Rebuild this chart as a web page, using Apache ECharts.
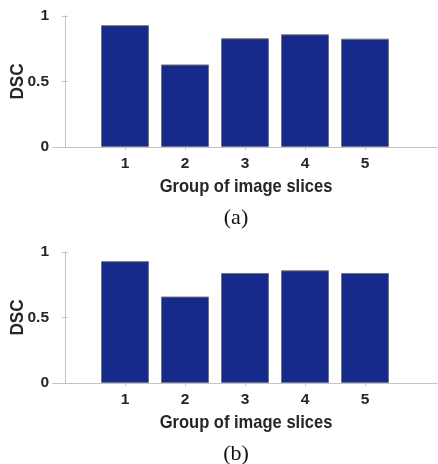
<!DOCTYPE html>
<html>
<head>
<meta charset="utf-8">
<script src="https://cdn.jsdelivr.net/npm/echarts@6/dist/echarts.min.js"></script>
<style>
  html, body { margin: 0; padding: 0; background: #fff; }
  #chart { width: 438px; height: 464px; }
</style>
</head>
<body>
<div id="chart"></div>
<script>
// 每组图像切片的 DSC
const groups = [1, 2, 3, 4, 5];
const dscA = [0.93, 0.63, 0.83, 0.86, 0.827];
const dscB = [0.93, 0.66, 0.84, 0.86, 0.84];
const yTicks = [0, 0.5, 1];
const xName = 'Group of image slices';
const yName = 'DSC';
const panelNames = ['(a)', '(b)'];

const gray = '#c3c3c3';
const txt = '#262626';
const font = '"Liberation Sans", Arial, sans-serif';
const serif = '"Liberation Serif", "Times New Roman", serif';

const grids = [
  { left: 53, right: 1, top: 16, height: 131, outerBoundsMode: 'none', containLabel: false },
  { left: 53, right: 1, top: 252, height: 131, outerBoundsMode: 'none', containLabel: false }
];

const xAxes = [];
const yAxes = [];
grids.forEach((g, i) => {
  // 底部 x 轴
  xAxes.push({
    gridIndex: i, type: 'value', min: -0.2, max: 6.2, position: 'bottom',
    axisLine: { lineStyle: { color: gray } },
    axisTick: { inside: true, length: 3, customValues: groups, lineStyle: { color: gray } },
    axisLabel: { customValues: groups, color: txt, fontFamily: font, fontWeight: 'bold', fontSize: 15.5, margin: 9 },
    splitLine: { show: false }
  });
  // 顶部边框
  xAxes.push({
    gridIndex: i, type: 'value', min: -0.2, max: 6.2, position: 'top',
    axisLine: { lineStyle: { color: gray } },
    axisTick: { inside: true, length: 3, customValues: groups, lineStyle: { color: gray } },
    axisLabel: { show: false },
    splitLine: { show: false }
  });
  yAxes.push({
    gridIndex: i, type: 'value', min: 0, max: 1, interval: 0.5, position: 'left',
    axisLine: { show: true, lineStyle: { color: gray } },
    axisTick: { show: true, inside: true, length: 3, lineStyle: { color: gray } },
    axisLabel: { color: txt, fontFamily: font, fontWeight: 'bold', fontSize: 15.5, margin: 4,
      formatter: v => yTicks.includes(v) ? String(v) : '' },
    splitLine: { show: false }
  });
  yAxes.push({
    gridIndex: i, type: 'value', min: 0, max: 1, interval: 0.5, position: 'right',
    axisLine: { show: true, lineStyle: { color: gray } },
    axisTick: { show: true, inside: true, length: 3, lineStyle: { color: gray } },
    axisLabel: { show: false },
    splitLine: { show: false }
  });
});

const barSeries = (data, i) => ({
  type: 'bar',
  xAxisIndex: i * 2,
  yAxisIndex: i * 2,
  data: groups.map((g, k) => [g, data[k]]),
  barWidth: 48,
  itemStyle: { color: '#152a8a', borderColor: '#6f7488', borderWidth: 1 },
  silent: true
});

// 轴标题（原图字体偏窄，用 scaleX 压缩）
const labels = [];
grids.forEach((g, i) => {
  const bottom = g.top + g.height;
  labels.push({
    type: 'text', x: 246, y: bottom + 40, scaleX: 0.87,
    style: { text: xName, font: 'bold 19px ' + font, fill: txt, align: 'center', verticalAlign: 'middle' }
  });
  labels.push({
    type: 'text', x: 18, y: g.top + g.height / 2, rotation: Math.PI / 2, scaleX: 0.9,
    style: { text: yName, font: 'bold 19px ' + font, fill: txt, align: 'center', verticalAlign: 'middle' }
  });
  labels.push({
    type: 'text', x: 236, y: bottom + 71,
    style: { text: panelNames[i], font: '22px ' + serif, fill: '#111', align: 'center', verticalAlign: 'middle' }
  });
});

const chart = echarts.init(document.getElementById('chart'), null, { renderer: 'canvas' });
chart.setOption({
  animation: false,
  backgroundColor: '#fff',
  grid: grids,
  xAxis: xAxes,
  yAxis: yAxes,
  graphic: labels,
  series: [barSeries(dscA, 0), barSeries(dscB, 1)]
});
</script>
</body>
</html>
